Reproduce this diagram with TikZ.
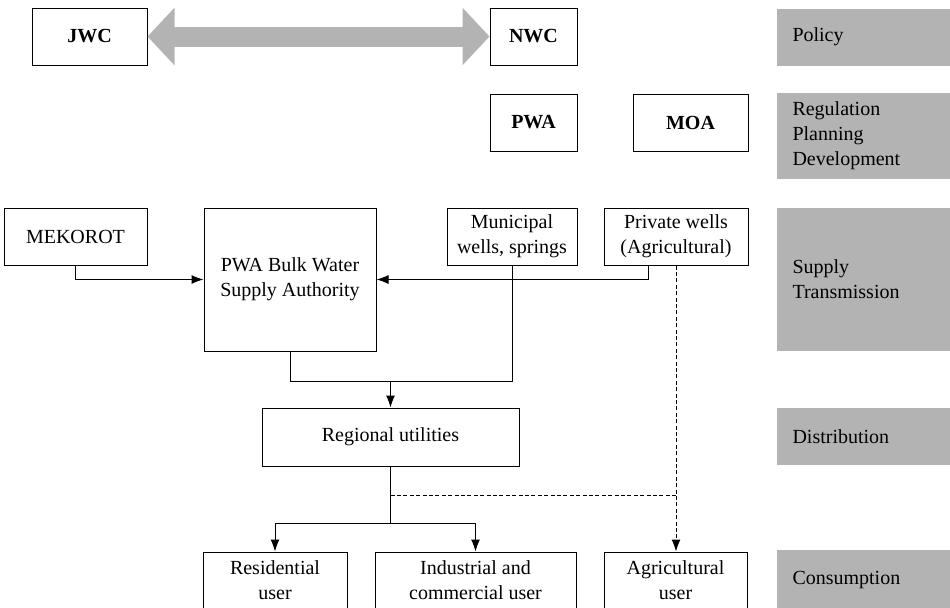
\documentclass[tikz,border=0pt]{standalone}
\usepackage{fontspec}
\setmainfont{Liberation Serif}
\usetikzlibrary{arrows.meta}
\newcommand{\fs}{\fontsize{10}{12.5}\selectfont}
\definecolor{layergray}{RGB}{179,179,179}

\begin{document}
\begin{tikzpicture}[x=0.5pt,y=-0.5pt,line width=0.5pt,
   >={Latex[length=6pt,width=4.5pt]},
   box/.style={draw,font=\fs,align=center,inner sep=0pt,minimum height=28.5pt},
   head/.style={box,font=\fs\bfseries},
   layer/.style={fill=layergray,font=\fs,align=left,anchor=west,
                 text width=74pt,inner xsep=8pt,inner ysep=0pt},
   link/.style={dash pattern=on 2pt off 1.2pt}]
   \clip (0,0) rectangle (950,607);
   \node[head,minimum width=57.5pt] (jwc) at (89.5,36.5)  {JWC};
   \node[head,minimum width=43.5pt] (nwc) at (533.5,36.5) {NWC};
   \node[head,minimum width=43.5pt] (pwa) at (533.5,122.5) {PWA};
   \node[head,minimum width=57.5pt] (moa) at (690.5,122.5) {MOA};
   \node[box,minimum width=71.5pt] (mekorot) at (75.5,236.5) {MEKOROT};
   \node[box,minimum width=86pt,minimum height=71.5pt] (bulk) at (290,279.5) {PWA Bulk Water\\Supply Authority};
   \node[box,minimum width=65pt] (muni) at (512,236.5) {Municipal\\wells, springs};
   \node[box,minimum width=72pt] (priv) at (676,236.5) {Private wells\\(Agricultural)};
   \node[box,minimum width=128.5pt,minimum height=29pt] (reg) at (390.5,437) {Regional utilities};
   \node[box,minimum width=72pt] (res) at (275,580.5) {Residential\\user};
   \node[box,minimum width=100.5pt] (ind) at (475.5,580.5) {Industrial and\\commercial user};
   \node[box,minimum width=71.5pt] (agr) at (675.5,580.5) {Agricultural\\user};
   \node[layer,minimum height=28.5pt] (policy) at (776,37)    {Policy};
   \node[layer,minimum height=43pt]   (regul)  at (776,136)   {Regulation\\Planning\\Development};
   \node[layer,minimum height=71.5pt] (supply) at (776,279.5) {Supply\\Transmission};
   \node[layer,minimum height=28.5pt] (distr)  at (776,436.5) {Distribution};
   \node[layer,minimum height=29.5pt] (consum) at (776,579.5) {Consumption};
   \coordinate (join)  at (390.5,381);
   \coordinate (tap)   at (390.5,495);
   \coordinate (split) at (390.5,523);
   \draw[layergray,line width=10pt,
         {Triangle[length=13.5pt,width=28pt]}-{Triangle[length=13.5pt,width=28pt]}] (jwc) -- (nwc);
   \draw[->] (mekorot.south) |- (bulk.west);
   \draw[->] ([xshift=-14pt]priv.south) |- (bulk.east);
   \draw (muni.south) |- (join);
   \draw (bulk.south) |- (join);
   \draw[->] (join) -- (reg.north);
   \draw (reg.south) -- (split);
   \draw[->] (split) -| (res.north);
   \draw[->] (split) -| (ind.north);
   \draw[link,->] (priv.south) -- (priv.south |- agr.north);
   \draw[link] (tap) -- (tap -| priv.south);
\end{tikzpicture}
\end{document}
